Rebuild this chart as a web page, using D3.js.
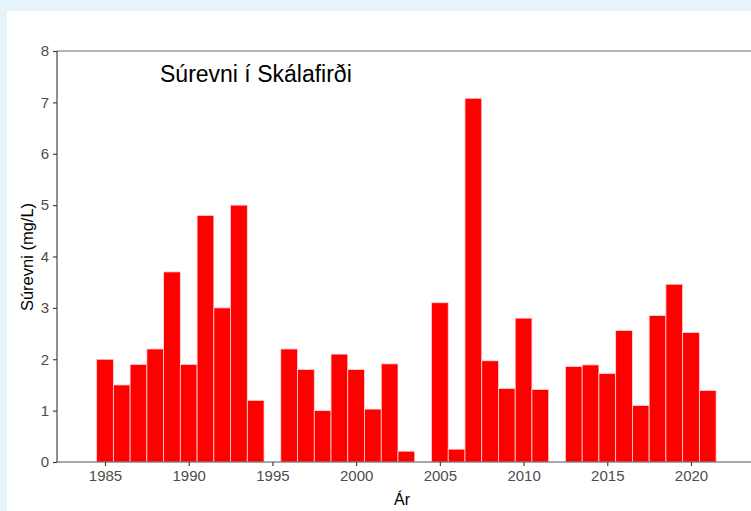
<!DOCTYPE html>
<html>
<head>
<meta charset="utf-8">
<title>Súrevni í Skálafirði</title>
<script src="https://cdnjs.cloudflare.com/ajax/libs/d3/7.8.5/d3.min.js"></script>
<style>
    body { margin: 0; background: #e5f3fb; }
    svg { display: block; font-family: "Liberation Sans", Arial, sans-serif; }
</style>
</head>
<body>
<svg id="chart" width="751" height="511"></svg>
<script>
    // data (missing years are left out)
    var years = [1985, 1986, 1987, 1988, 1989, 1990, 1991, 1992, 1993, 1994,
                 1996, 1997, 1998, 1999, 2000, 2001, 2002, 2003,
                 2005, 2006, 2007, 2008, 2009, 2010, 2011,
                 2013, 2014, 2015, 2016, 2017, 2018, 2019, 2020, 2021];
    var values = [2.0, 1.5, 1.9, 2.2, 3.7, 1.9, 4.8, 3.0, 5.0, 1.2,
                  2.2, 1.8, 1.0, 2.1, 1.8, 1.03, 1.91, 0.21,
                  3.1, 0.25, 7.08, 1.97, 1.43, 2.8, 1.41,
                  1.86, 1.89, 1.72, 2.56, 1.1, 2.85, 3.46, 2.52, 1.39];
    var xTicks = [1985, 1990, 1995, 2000, 2005, 2010, 2015, 2020];
    var yTicks = [0, 1, 2, 3, 4, 5, 6, 7, 8];

    var svg = d3.select("#chart");

    svg.append("rect")
        .attr("x", 7).attr("y", 11)
        .attr("width", 744).attr("height", 500)
        .attr("fill", "#ffffff");

    var pLeft = 57, pTop = 51, pBottom = 462, pRight = 751;

    var x = d3.scaleLinear().domain([1985, 2020]).range([105, 691]);
    var y = d3.scaleLinear().domain([0, 8]).range([pBottom, pTop]);
    var step = x(1986) - x(1985);

    // top frame line
    svg.append("line")
        .attr("x1", pLeft).attr("x2", pRight)
        .attr("y1", pTop).attr("y2", pTop)
        .attr("stroke", "#9a9a9a").attr("stroke-width", 1.5);

    svg.append("g").selectAll("rect")
        .data(years)
        .enter()
        .append("rect")
        .attr("x", (d) => x(d) - step / 2)
        .attr("width", step)
        .attr("y", (d, i) => y(values[i]))
        .attr("height", (d, i) => y(0) - y(values[i]))
        .attr("fill", "#ff0000")
        .attr("stroke", "#ffd6d6")
        .attr("stroke-width", 0.8);

    var yAxis = svg.append("g")
        .attr("transform", "translate(" + pLeft + ",0)")
        .call(d3.axisLeft(y).tickValues(yTicks).tickSize(4).tickPadding(4));

    var xAxis = svg.append("g")
        .attr("transform", "translate(0," + pBottom + ")")
        .call(d3.axisBottom(x).tickValues(xTicks).tickFormat(d3.format("d")).tickSize(4).tickPadding(4));

    [yAxis, xAxis].forEach(function(g) {
        g.select(".domain").remove();
        g.selectAll(".tick line").attr("stroke", "#333333").attr("stroke-width", 1.1);
        g.selectAll(".tick text")
            .attr("fill", "#4d4d4d")
            .style("font-size", "15px")
            .style("font-family", "'Liberation Sans', Arial, sans-serif");
    });

    svg.append("line")
        .attr("x1", pLeft).attr("x2", pLeft)
        .attr("y1", pTop).attr("y2", pBottom)
        .attr("stroke", "#333333").attr("stroke-width", 1.1);

    svg.append("line")
        .attr("x1", pLeft).attr("x2", pRight)
        .attr("y1", pBottom).attr("y2", pBottom)
        .attr("stroke", "#555555").attr("stroke-width", 1.1);

    svg.append("text")
        .attr("x", 160).attr("y", 82)
        .attr("fill", "#000000")
        .style("font-size", "23px")
        .text("Súrevni í Skálafirði");

    svg.append("text")
        .attr("transform", "translate(33,257) rotate(-90)")
        .attr("text-anchor", "middle")
        .attr("fill", "#000000")
        .style("font-size", "16.5px")
        .text("Súrevni (mg/L)");

    svg.append("text")
        .attr("x", 402).attr("y", 505)
        .attr("text-anchor", "middle")
        .attr("fill", "#000000")
        .style("font-size", "16px")
        .text("Ár");
</script>
</body>
</html>
